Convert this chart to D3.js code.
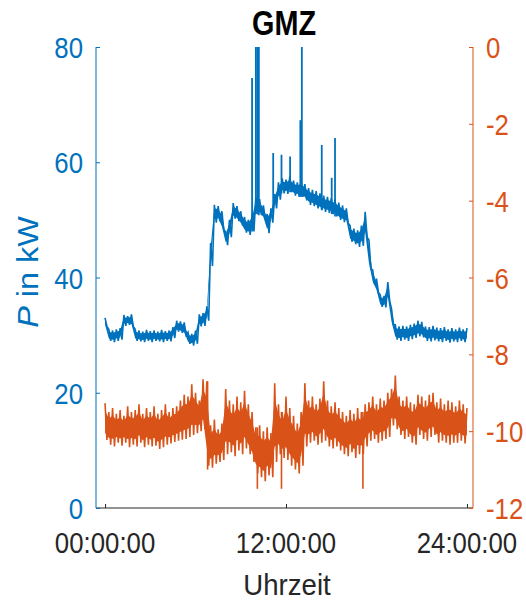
<!DOCTYPE html>
<html>
<head>
<meta charset="utf-8">
<script src="https://cdn.jsdelivr.net/npm/d3@7"></script>
<style>
body { margin: 0; background: #fff; }
text { font-family: "Liberation Sans", Arial, sans-serif; }
</style>
</head>
<body>
<div id="chart-area"></div>
<script>

// sampling grid in hours (every 15 min)
var hours = d3.range(0, 24.01, 0.25);

// P in kW (left axis): upper and lower edge of the noisy trace
var powerHi = [33.0, 31.0, 30.8, 31.0, 31.2, 33.5, 33.3, 33.6, 31.0, 30.8, 30.6, 30.9, 30.7, 30.8, 30.6, 30.9,
    30.7, 30.8, 31.4, 32.5, 32.4, 32.2, 30.5, 30.2, 30.8, 33.6, 33.8, 35.0, 46.0, 52.6, 52.4, 51.5,
    48.0, 50.0, 52.9, 52.4, 51.5, 50.5, 50.0, 51.0, 54.0, 53.6, 52.5, 51.0, 52.0, 54.5, 56.5, 57.2,
    57.0, 57.5, 56.8, 56.5, 56.8, 56.2, 55.5, 55.2, 55.0, 54.6, 54.2, 54.0, 53.8, 53.5, 53.0, 52.5,
    52.0, 49.0, 48.5, 48.2, 49.0, 51.4, 46.5, 41.3, 39.8, 37.0, 36.8, 39.2, 34.5, 31.8, 31.5, 31.6,
    31.5, 31.8, 32.0, 32.5, 32.3, 31.5, 31.4, 31.6, 31.3, 31.2, 31.4, 31.0, 31.2, 31.0, 31.3, 31.0, 31.2];
var powerLo = [31.5, 29.0, 28.8, 29.0, 29.2, 31.6, 31.8, 31.5, 29.0, 28.9, 28.8, 29.0, 28.8, 29.0, 28.9, 28.8,
    29.0, 28.9, 29.5, 30.6, 30.4, 30.0, 28.5, 28.2, 28.5, 31.5, 31.6, 32.5, 42.0, 49.5, 49.8, 48.2,
    45.6, 47.0, 50.2, 49.8, 49.0, 47.8, 47.4, 48.0, 51.0, 50.8, 50.0, 47.7, 49.5, 52.0, 53.5, 54.6,
    54.5, 54.8, 54.2, 54.0, 54.0, 53.4, 52.6, 52.4, 52.0, 51.7, 51.4, 51.2, 51.0, 50.6, 50.0, 49.6,
    49.4, 46.2, 45.8, 45.3, 45.5, 47.0, 41.5, 38.8, 37.4, 34.9, 34.8, 36.0, 31.8, 29.2, 29.0, 29.2,
    29.0, 29.3, 29.5, 29.8, 29.6, 29.0, 28.9, 29.1, 28.9, 28.8, 29.0, 28.7, 28.9, 28.8, 29.0, 28.8, 29.0];
// short peaks of P: [hour, kW]
var powerSpikes = [[9.75, 74.6], [10.0, 80], [10.1, 80], [10.2, 80], [11.15, 61.6], [11.7, 61.3],
    [12.27, 61.0], [12.95, 67.3], [13.05, 80], [14.37, 63.0], [15.03, 57.3], [15.25, 64.2]];

// right axis series: upper and lower edge
var rightHi = [-9.27, -9.5, -9.4, -9.55, -9.45, -9.6, -9.35, -9.5, -9.45, -9.3, -9.55, -9.4, -9.5, -9.35, -9.55, -9.45,
    -9.3, -9.5, -9.4, -9.35, -9.2, -9.05, -9.1, -8.78, -9.0, -9.2, -8.65, -8.7, -9.85, -9.7, -9.95, -9.8,
    -8.9, -9.2, -9.3, -9.1, -9.25, -8.95, -9.3, -9.5, -9.9, -9.85, -10.0, -9.9, -10.05, -8.75, -9.3, -9.5,
    -9.1, -9.4, -9.6, -9.8, -9.5, -8.75, -9.2, -9.1, -9.3, -9.15, -8.7, -9.2, -9.35, -9.25, -9.4, -9.5,
    -9.6, -9.45, -9.55, -9.4, -9.5, -9.3, -9.25, -9.1, -9.3, -9.15, -9.2, -9.0, -8.9, -8.55, -9.1, -9.2,
    -9.1, -9.25, -9.3, -9.05, -9.1, -9.2, -9.05, -9.0, -9.25, -9.15, -9.3, -9.2, -9.25, -9.35, -9.2, -9.3, -9.4];
var rightLo = [-10.23, -10.35, -10.4, -10.3, -10.38, -10.3, -10.42, -10.35, -10.4, -10.3, -10.42, -10.35, -10.4, -10.38, -10.46, -10.42,
    -10.35, -10.32, -10.28, -10.25, -10.22, -10.2, -10.15, -10.1, -10.05, -10.0, -9.95, -10.9, -10.95, -10.85, -10.8, -10.75,
    -10.6, -10.55, -10.65, -10.5, -10.6, -10.45, -10.6, -10.8, -11.1, -11.2, -11.3, -11.15, -11.2, -10.8, -10.6, -10.7,
    -10.75, -10.9, -11.0, -11.1, -10.9, -10.4, -10.3, -10.25, -10.35, -10.3, -10.25, -10.4, -10.45, -10.4, -10.5, -10.6,
    -10.65, -10.55, -10.7, -10.6, -10.6, -10.4, -10.25, -10.2, -10.3, -10.25, -10.2, -10.15, -9.85, -9.95, -10.1, -10.2,
    -10.15, -10.3, -10.35, -10.1, -10.2, -10.25, -10.15, -10.1, -10.3, -10.25, -10.3, -10.35, -10.3, -10.3, -10.25, -10.32, -10.28];
var rightSpikes = [[6.8, -11.0], [10.1, -11.5], [11.7, -11.5], [17.1, -11.5]];

var timeTicks = [0, 12, 24];
var timeLabels = ["00:00:00", "12:00:00", "24:00:00"];
var leftTicks = [0, 20, 40, 60, 80];
var rightTicks = [0, -2, -4, -6, -8, -10, -12];

var blue = "#0072BD";
var orange = "#D95319";
var grey = "#262626";

var width = 526, height = 600;
var plot = {left: 96, right: 473, top: 47, bottom: 508};

var svg = d3.select("#chart-area").append("svg")
    .attr("width", width)
    .attr("height", height);

var x = d3.scaleLinear().domain([-0.6, 24.4]).range([plot.left, plot.right]);
var yL = d3.scaleLinear().domain([0, 80]).range([plot.bottom, plot.top]);
var yR = d3.scaleLinear().domain([-12, 0]).range([plot.bottom, plot.top]);

// zigzag between upper and lower edge, like a dense noisy signal
function zigzag(hi, lo) {
    var pts = [];
    hours.forEach(function(h, i) {
        pts.push([h, hi[i]]);
        if (i < hours.length - 1) pts.push([h + 0.125, lo[i]]);
    });
    return pts;
}

// solid core of the trace (inner part of the band)
function core(hi, lo, k) {
    return hours.map(function(h, i) {
        var mid = (hi[i] + lo[i]) / 2, half = (hi[i] - lo[i]) / 2;
        return [h, mid + k * half, mid - k * half];
    });
}

svg.append("clipPath").attr("id", "plotclip")
    .append("rect")
    .attr("x", plot.left).attr("y", plot.top)
    .attr("width", plot.right - plot.left).attr("height", plot.bottom - plot.top);

var g = svg.append("g").attr("clip-path", "url(#plotclip)");

var lineL = d3.line().x(function(d) { return x(d[0]); }).y(function(d) { return yL(d[1]); });
var lineR = d3.line().x(function(d) { return x(d[0]); }).y(function(d) { return yR(d[1]); });
var areaL = d3.area().x(function(d) { return x(d[0]); })
    .y0(function(d) { return yL(d[2]); }).y1(function(d) { return yL(d[1]); });
var areaR = d3.area().x(function(d) { return x(d[0]); })
    .y0(function(d) { return yR(d[2]); }).y1(function(d) { return yR(d[1]); });

// P trace
g.append("path")
    .datum(core(powerHi, powerLo, 0.6))
    .attr("d", areaL)
    .attr("fill", blue);

g.append("path")
    .datum(zigzag(powerHi, powerLo))
    .attr("d", lineL)
    .attr("fill", "none")
    .attr("stroke", blue)
    .attr("stroke-width", 1.6);

// spikes of P go up from the trace
g.selectAll(".pspike").data(powerSpikes).enter().append("path")
    .attr("class", "pspike")
    .attr("d", function(d) {
        var i = Math.round(d[0] / 0.25);
        return lineL([[d[0], powerLo[i]], [d[0], d[1]]]);
    })
    .attr("stroke", blue)
    .attr("stroke-width", 1.8);

// right axis trace
g.append("path")
    .datum(core(rightHi, rightLo, 0.6))
    .attr("d", areaR)
    .attr("fill", orange);

g.append("path")
    .datum(zigzag(rightHi, rightLo))
    .attr("d", lineR)
    .attr("fill", "none")
    .attr("stroke", orange)
    .attr("stroke-width", 1.6);

g.selectAll(".rspike").data(rightSpikes).enter().append("path")
    .attr("class", "rspike")
    .attr("d", function(d) {
        var i = Math.round(d[0] / 0.25);
        return lineR([[d[0], rightHi[i]], [d[0], d[1]]]);
    })
    .attr("stroke", orange)
    .attr("stroke-width", 1.6);

// axes
var fontSize = 30;
var squeeze = 0.86;

var xAxis = d3.axisBottom(x).tickValues(timeTicks).tickSize(0).tickFormat("");
var gx = svg.append("g").attr("transform", "translate(0," + plot.bottom + ")").call(xAxis);
gx.select(".domain").attr("stroke", grey).attr("d", "M" + plot.left + ",0H" + plot.right);
gx.selectAll(".tick").append("line").attr("y1", 0).attr("y2", -4).attr("stroke", grey);

svg.selectAll(".xlab").data(timeTicks).enter().append("text")
    .attr("class", "xlab")
    .attr("transform", function(d) { return "translate(" + x(d) + "," + (plot.bottom + 45) + ") scale(" + squeeze + ",1)"; })
    .attr("text-anchor", "middle")
    .attr("font-size", fontSize)
    .attr("fill", grey)
    .text(function(d, i) { return timeLabels[i]; });

var leftAxis = d3.axisLeft(yL).tickValues(leftTicks).tickSize(-4).tickFormat("");
var gl = svg.append("g").attr("transform", "translate(" + plot.left + ",0)").call(leftAxis);
gl.select(".domain").attr("stroke", blue).attr("d", "M0," + plot.top + "V" + plot.bottom);
gl.selectAll(".tick line").attr("stroke", blue);

svg.selectAll(".llab").data(leftTicks).enter().append("text")
    .attr("class", "llab")
    .attr("transform", function(d) { return "translate(" + (plot.left - 13) + "," + (yL(d) + 11) + ") scale(" + squeeze + ",1)"; })
    .attr("text-anchor", "end")
    .attr("font-size", fontSize)
    .attr("fill", blue)
    .text(function(d) { return d; });

var rightAxis = d3.axisRight(yR).tickValues(rightTicks).tickSize(-4).tickFormat("");
var gr = svg.append("g").attr("transform", "translate(" + plot.right + ",0)").call(rightAxis);
gr.select(".domain").attr("stroke", orange).attr("d", "M0," + plot.top + "V" + plot.bottom);
gr.selectAll(".tick line").attr("stroke", orange);

svg.selectAll(".rlab").data(rightTicks).enter().append("text")
    .attr("class", "rlab")
    .attr("transform", function(d) { return "translate(" + (plot.right + 13) + "," + (yR(d) + 11) + ") scale(" + squeeze + ",1)"; })
    .attr("text-anchor", "start")
    .attr("font-size", fontSize)
    .attr("fill", orange)
    .text(function(d) { return d === 0 ? "0" : "-" + Math.abs(d); });

// labels
svg.append("text")
    .attr("transform", "translate(" + 284 + "," + 35 + ") scale(0.8,1)")
    .attr("text-anchor", "middle")
    .attr("font-size", 36)
    .attr("font-weight", "bold")
    .attr("fill", "#000")
    .text("GMZ");

svg.append("text")
    .attr("transform", "translate(" + 287 + "," + 595 + ") scale(0.92,1)")
    .attr("text-anchor", "middle")
    .attr("font-size", fontSize)
    .attr("fill", grey)
    .text("Uhrzeit");

var ylab = svg.append("text")
    .attr("transform", "translate(" + 38 + "," + 272 + ") rotate(-90) scale(1.08,1)")
    .attr("text-anchor", "middle")
    .attr("font-size", fontSize)
    .attr("fill", blue);
ylab.append("tspan").attr("font-style", "italic").text("P");
ylab.append("tspan").text(" in kW");

</script>
</body>
</html>
